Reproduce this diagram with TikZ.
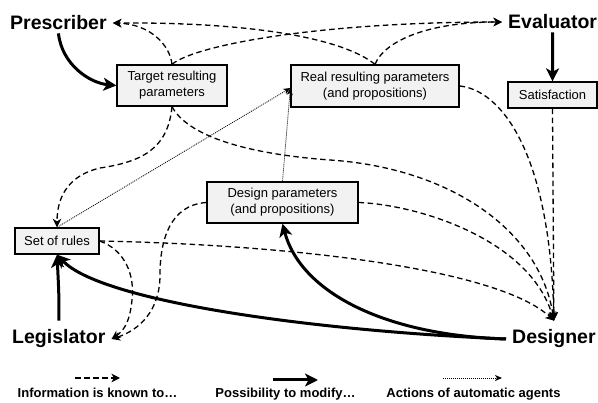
\documentclass[tikz,border=0pt]{standalone}
\usepackage{fontspec}
\setmainfont{Liberation Sans}
\usetikzlibrary{arrows.meta}
\definecolor{boxgray}{RGB}{242,242,242}
\begin{document}
\begin{tikzpicture}[x=1pt,y=-1pt,
  box/.style={draw=black, line width=1.3pt, fill=boxgray, inner sep=0pt, align=center, font=\fontsize{13}{16}\selectfont},
  actor/.style={font=\fontsize{19.5}{22}\selectfont\bfseries, inner xsep=6pt, inner ysep=3pt, anchor=base west},
  info/.style={line width=1.3pt, dash pattern=on 5.5pt off 3.5pt, -{Stealth[length=8.5pt,width=8.5pt,inset=2.5pt]}},
  modify/.style={line width=3pt, -{Stealth[length=13pt,width=13pt,inset=3.5pt]}},
  autoact/.style={line width=0.8pt, dash pattern=on 1pt off 1pt, -{Stealth[length=7pt,width=6pt,inset=2pt]}},
  legend/.style={font=\fontsize{13}{15}\selectfont\bfseries, anchor=base, inner sep=0pt}
]
\useasboundingbox (0,0) rectangle (598,403);

% actors
\node[actor] (pres) at (4,30) {Prescriber};
\node[actor] (eval) at (502,29) {Evaluator};
\node[actor] (leg) at (6,344) {Legislator};
\node[actor] (des) at (506,344) {Designer};

% boxes
\node[box, minimum width=110pt, minimum height=41pt] (tgt) at (172,85.5) {Target resulting\\parameters};
\node[box, minimum width=168pt, minimum height=42pt] (real) at (375,86) {Real resulting parameters\\(and propositions)};
\node[box, minimum width=89pt, minimum height=26pt] (sat) at (552.5,95) {Satisfaction};
\node[box, minimum width=151pt, minimum height=41pt] (design) at (282.5,202.5) {Design parameters\\(and propositions)};
\node[box, minimum width=84pt, minimum height=26pt] (rules) at (57,241) {Set of rules};

\coordinate (desIn) at ([yshift=6pt]des.north);
\coordinate (realIn) at ([yshift=-2pt]real.west);
\coordinate (legOut) at ([yshift=6pt]leg.north);

% information is known to
\draw[info] (tgt.north) .. controls (170,45) and (150,24) .. (pres.east);
\draw[info] (real.north) .. controls (345,40) and (260,22) .. (pres.east);
\draw[info] (tgt.north) .. controls (195,45) and (320,22) .. (eval.west);
\draw[info] (real.north) .. controls (385,40) and (430,22) .. (eval.west);
\draw[info] (tgt.south) .. controls (168,150) and (140,162) .. (100,168) .. controls (70,175) and (57,195) .. (rules.north);
\draw[info] (tgt.south) .. controls (190,140) and (260,155) .. (330,160) .. controls (450,168) and (540,230) .. (desIn);
\draw[info] (real.east) .. controls (500,90) and (550,150) .. (desIn);
\draw[info] (sat.south) -- (desIn);
\draw[info] (design.east) .. controls (420,205) and (530,240) .. (desIn);
\draw[info] (rules.east) .. controls (300,245) and (500,270) .. (desIn);
\draw[info] (design.west) .. controls (170,205) and (160,240) .. (160,275) .. controls (160,310) and (140,330) .. (leg.east);
\draw[info] (rules.east) .. controls (125,250) and (135,275) .. (132,300) .. controls (130,320) and (125,330) .. (leg.east);

% possibility to modify
\draw[modify] (pres.south) .. controls (62,65) and (90,83) .. (tgt.west);
\draw[modify] (eval.south) -- (sat.north);
\draw[modify] (legOut) .. controls (59,295) .. (rules.south);
\draw[modify] (des.west) .. controls (300,330) and (100,300) .. (rules.south);
\draw[modify] (des.west) .. controls (380,335) and (300,290) .. (design.south);

% automatic agents
\draw[autoact] (rules.north) -- (realIn);
\draw[autoact] (design.north) -- (realIn);

% legend
\coordinate (l1a) at (75,378); \coordinate (l1b) at (120,378);
\coordinate (l2a) at (273,380); \coordinate (l2b) at (318,380);
\coordinate (l3a) at (443,378); \coordinate (l3b) at (502,378);
\draw[info] (l1a) -- (l1b);
\draw[modify] (l2a) -- (l2b);
\draw[autoact] (l3a) -- (l3b);
\node[legend] (lt1) at (97.5,397.5) {Information is known to…};
\node[legend] (lt2) at (285.5,397.5) {Possibility to modify…};
\node[legend] (lt3) at (473.5,397.5) {Actions of automatic agents};
\end{tikzpicture}
\end{document}
